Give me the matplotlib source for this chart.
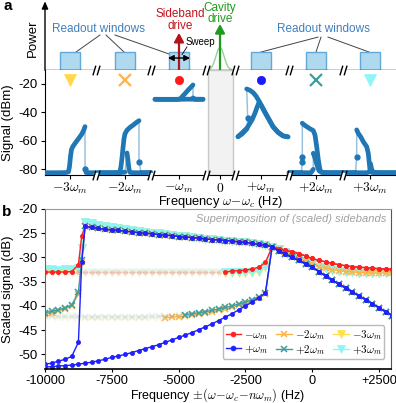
import numpy as np
import matplotlib.pyplot as plt
from matplotlib.patches import Rectangle
from matplotlib.path import Path
from matplotlib.lines import Line2D

plt.rcParams['font.family'] = ['Liberation Sans', 'DejaVu Sans']
plt.rcParams['mathtext.fontset'] = 'cm'
plt.rcParams['axes.unicode_minus'] = False
plt.rcParams['font.size'] = 9.5

# ---------------- panel a: spectra in the readout windows ----------------
# each trace = list of segments (detuning inside window, signal in dBm)
m3_up = [([-25, -18, -10, -4, -1.5, -0.5, 0.5, 1.5, 3, 6, 9, 12, 14, 15],
          [-82.4, -82.4, -82.4, -82.3, -81.8, -78, -71, -66, -63.8, -60.8, -58, -55, -52, -50]),
         ([15], [-80.0]),
         ([16, 20, 26], [-82.3, -82.4, -82.4])]
m2_up = [([-27, -20, -12, -7, -5, -4, -3, -2, -1, 0, 2, 5, 8, 11, 14],
          [-82.4, -82.4, -82.4, -82.3, -81.5, -78, -72, -65, -58.5, -55, -52.5, -50.5, -49, -47.3, -45.8]),
         ([14], [-74.6]),
         ([16, 20, 26], [-82.3, -82.4, -82.4])]
m2_down = [([26, 15, 8, 5, 4, 3, 2], [-82.4, -82.4, -82.4, -82.2, -80, -74, -68.5]),
           ([0, -5, -15, -27], [-82.0, -82.4, -82.4, -82.4])]
m1_flat = [([-24, -12, 0, 12, 24], [-30.8, -30.9, -30.8, -30.7, -30.8])]
m1_bump = [([-24, -10, 0, 2, 4, 6, 9, 12, 14],
            [-30.8, -30.8, -30.8, -30.0, -28.3, -26.8, -24.4, -22.2, -20.7]),
           ([14, 16, 20, 24], [-29.8, -30.8, -30.8, -30.8])]
p1_up = [([-23, -19, -16, -14], [-57.1, -55.2, -53.0, -51.5]),
         ([-13.3], [-44.1]),
         ([-14.3, -11, -8, -5, -2, 1, 4, 8, 12, 17, 22, 27],
          [-23.5, -24.5, -26.0, -28.5, -32.0, -36.0, -40.0, -45.0, -50.0, -54.0, -56.5, -57.2])]
p1_down = [([27, 22, 17, 12, 8, 4, 1, -2, -4, -6, -9, -14, -19, -23],
            [-57.2, -56.5, -54.0, -50.0, -45.0, -40.0, -36.0, -33.0, -36.5, -40.5, -45.3, -51.0, -54.5, -57.0])]
p2_up = [([-27, -20, -16, -14.5], [-82.4, -82.4, -82.3, -82.2]),
         ([-13.7], [-74.6]),
         ([-13.7], [-71.1]),
         ([-13.7, -12, -9.3, -6, -2.7, -1, 0.7, 2.3, 4, 6, 12, 20, 27],
          [-47.6, -48.7, -50.0, -51.5, -52.8, -55.9, -64.1, -73.4, -80.5, -82.2, -82.4, -82.4, -82.4])]
p2_down = [([27, 15, 6, 3, 1, -1, -2.7], [-82.4, -82.4, -82.3, -81.0, -77.0, -72.0, -68.7]),
           ([-2.7, -5, -15, -27], [-80.0, -82.4, -82.4, -82.4])]
p3_up = [([-27, -20, -16, -14.5], [-82.4, -82.4, -82.3, -82.2]),
         ([-13.3], [-71.0]),
         ([-13.3, -11.7, -9, -6.7, -3.3, -1.7, -0.7, 0, 2, 8, 15, 26],
          [-52.3, -54.7, -57.5, -60.6, -64.1, -68.7, -75.8, -80.5, -82.2, -82.4, -82.4, -82.4])]
p3_down = [([26, 10, 3, 1.5, 0.5], [-82.4, -82.4, -82.2, -79.5, -76.0]),
           ([0.5, -3, -12, -27], [-81.5, -82.4, -82.4, -82.4])]

windows = ['-3', '-2', '-1', '0', '+1', '+2', '+3']
win_labels = [r'$-3\omega_m$', r'$-2\omega_m$', r'$-\omega_m$', r'$0$',
              r'$+\omega_m$', r'$+2\omega_m$', r'$+3\omega_m$']
spectra = {'-3': [m3_up], '-2': [m2_up, m2_down], '-1': [m1_flat, m1_bump],
           '+1': [p1_up, p1_down], '+2': [p2_up, p2_down], '+3': [p3_up, p3_down]}

# ---------------- panel b: superimposed scaled sidebands ----------------
freq_left = np.arange(-10000, -8749, 250)
freq_rise = -8625
freq_high = np.arange(-8500, -1499, 250)
freq_right = np.arange(-1250, 3001, 250)
freq_low = np.arange(-10000, -1749, 250)

high = [-23.6, -23.8, -24.0, -24.2, -24.3, -24.4, -24.6, -24.7, -24.9, -25.0, -25.1, -25.3,
        -25.4, -25.5, -25.7, -25.8, -25.9, -26.0, -26.2, -26.3, -26.4, -26.5, -26.6, -26.8,
        -26.9, -27.1, -27.3, -27.5, -27.8]
high_tri = [-22.6, -22.9, -23.2, -23.5, -23.7, -23.9, -24.1, -24.3, -24.5, -24.7, -24.9, -25.0,
            -25.2, -25.3, -25.5, -25.6, -25.8, -25.9, -26.1, -26.2, -26.3, -26.5, -26.6, -26.8,
            -26.9, -27.1, -27.3, -27.5, -27.8]
right_red = [-28.2, -28.5, -28.8, -29.2, -29.7, -30.2, -30.6, -30.9, -31.2, -31.5, -31.7, -31.9,
             -32.0, -32.1, -32.2, -32.3, -32.4, -32.4]
right_upper = [-28.3, -28.8, -29.4, -30.1, -30.8, -31.4, -31.9, -32.2, -32.5, -32.7, -32.9, -33.0,
               -33.1, -33.1, -33.2, -33.2, -33.2, -33.2]
right_lower = [-28.7, -29.3, -30.0, -30.6, -31.3, -32.0, -32.9, -33.8, -34.7, -35.5, -36.3, -37.1,
               -37.9, -38.7, -39.5, -40.4, -41.2, -42.0]

red_left = [-33.0, -33.0, -33.0, -33.0, -32.9, -31.5]
blue_left = [-52.0, -51.8, -51.4, -51.0, -50.4, -47.5]
orange_left = [-41.7, -41.4, -41.0, -40.6, -40.0, -37.6]
teal_left = [-41.4, -41.1, -40.8, -40.4, -39.8, -37.2]
yellow_left = [-32.6, -32.6, -32.7, -32.6, -32.5, -32.3]
cyan_left = [-32.4, -32.4, -32.5, -32.4, -32.3, -32.1]

red_low = [-33.0, -33.0, -33.0, -33.0, -33.0, -33.0, -33.0, -33.0, -33.0, -33.0, -33.0, -33.0,
           -33.0, -33.0, -33.0, -33.0, -33.0, -33.0, -33.0, -33.0, -33.0, -33.0, -33.0, -33.0,
           -33.0, -33.0, -33.0, -33.0, -32.8, -32.7, -32.6, -32.4, -32.0, -31.0]
blue_low = [-52.6, -52.5, -52.4, -52.3, -52.2, -52.0, -51.8, -51.6, -51.3, -51.0, -50.6, -50.3,
            -50.0, -49.6, -49.2, -48.8, -48.4, -48.0, -47.5, -47.0, -46.5, -46.0, -45.5, -44.9,
            -44.3, -43.7, -43.0, -42.3, -41.6, -40.8, -40.0, -39.2, -38.3, -37.3]
orange_low = [-42.3, -42.3, -42.4, -42.4, -42.4, -42.4, -42.5, -42.5, -42.5, -42.5, -42.5, -42.5,
              -42.5, -42.5, -42.5, -42.5, -42.4, -42.4, -42.4, -42.3, -42.2, -42.1, -41.9, -41.7,
              -41.5, -41.2, -40.9, -40.6, -40.3, -39.9, -39.5, -39.0, -38.3, -37.6]
teal_low = [-42.0, -42.0, -42.1, -42.1, -42.1, -42.1, -42.2, -42.2, -42.2, -42.2, -42.2, -42.2,
            -42.2, -42.2, -42.2, -42.2, -42.1, -42.1, -42.1, -42.0, -41.9, -41.8, -41.6, -41.4,
            -41.2, -40.9, -40.6, -40.3, -40.0, -39.6, -39.2, -38.7, -38.1, -37.4]
yellow_low = [-33.2, -33.2, -33.2, -33.2, -33.2, -33.2, -33.2, -33.2, -33.2, -33.2, -33.2, -33.2,
              -33.2, -33.2, -33.2, -33.2, -33.2, -33.2, -33.2, -33.2, -33.2, -33.2, -33.2, -33.2,
              -33.2, -33.2, -33.2, -33.2, -33.2, -33.2, -33.2, -33.1, -32.9, -32.0]
cyan_low = [-33.0, -33.0, -33.0, -33.0, -33.0, -33.0, -33.0, -33.0, -33.0, -33.0, -33.0, -33.0,
            -33.0, -33.0, -33.0, -33.0, -33.0, -33.0, -33.0, -33.0, -33.0, -33.0, -33.0, -33.0,
            -33.0, -33.0, -33.0, -33.0, -33.0, -33.0, -33.0, -32.9, -32.7, -31.8]

series = [
    dict(label=r'$-3\omega_m$', color='#ffe14d', marker='v', ms=5.5, mew=0.5,
         left=yellow_left, rise=-28.0, high=high_tri, right_up=right_upper,
         low=yellow_low, right_dn=right_upper, fade=-3250),
    dict(label=r'$+3\omega_m$', color='#8ef5f5', marker='v', ms=5.5, mew=0.5,
         left=cyan_left, rise=-28.0, high=high_tri, right_up=right_upper,
         low=cyan_low, right_dn=right_upper, fade=-3250),
    dict(label=r'$-2\omega_m$', color='#ffb347', marker='x', ms=4.5, mew=1.1,
         left=orange_left, rise=-31.0, high=high, right_up=right_upper,
         low=orange_low, right_dn=right_lower, fade=-5500),
    dict(label=r'$+2\omega_m$', color='#3d9e9e', marker='x', ms=4.5, mew=1.1,
         left=teal_left, rise=-30.5, high=high, right_up=right_lower,
         low=teal_low, right_dn=right_lower, fade=-4750),
    dict(label=r'$-\omega_m$', color='#ff2020', marker='o', ms=3.0, mew=0.5,
         left=red_left, rise=-25.5, high=high, right_up=right_red,
         low=red_low, right_dn=right_red, fade=-3250),
    dict(label=r'$+\omega_m$', color='#1f1fff', marker='o', ms=3.0, mew=0.5,
         left=blue_left, rise=-31.0, high=high, right_up=right_lower,
         low=blue_low, right_dn=right_lower, fade=-10001),
]
legend_order = [r'$-\omega_m$', r'$+\omega_m$', r'$-2\omega_m$', r'$+2\omega_m$',
                r'$-3\omega_m$', r'$+3\omega_m$']

# ---------------- layout (pixel based) ----------------
W, H = 396, 403
fig = plt.figure(figsize=(W / 100, H / 100), dpi=100)


def rect(x0, y0, x1, y1):
    return [x0 / W, 1 - y1 / H, (x1 - x0) / W, (y1 - y0) / H]


centers = {'-3': 70, '-2': 125, '-1': 179, '0': 220, '+1': 261, '+2': 316, '+3': 370}
breaks = [96, 151, 206, 235, 289, 343]
XL = (45, 396)
SPEC_C = '#1f77b4'

ax_top = fig.add_axes(rect(45, 0, 396, 70))
ax_a = fig.add_axes(rect(45, 70, 396, 175))
ax_b = fig.add_axes(rect(45, 209, 391, 369))

# --- schematic
ax_top.set_xlim(XL)
ax_top.set_ylim(0, 1)
for s in ['top', 'right', 'left']:
    ax_top.spines[s].set_visible(False)
ax_top.spines['bottom'].set_linewidth(1.0)
ax_top.set_yticks([])
ax_top.set_xticks([centers[w] for w in windows])
ax_top.tick_params(axis='x', length=3.5, labelbottom=False, width=0.8)
ax_top.patch.set_alpha(0)

ax_top.annotate('', xy=(45, 0.98), xytext=(45, 0), annotation_clip=False,
                arrowprops=dict(arrowstyle='-|>,head_length=0.45,head_width=0.2',
                                color='black', lw=1.0, shrinkA=0, shrinkB=0))
fig.text(33 / W, 1 - 38 / H, 'Power', rotation=90, ha='center', va='center', fontsize=9.5)

for w in windows:
    if w == '0':
        continue
    ax_top.add_patch(Rectangle((centers[w] - 10, 0), 20, 0.257, facecolor='#aed9ee',
                               edgecolor='#62a8d8', lw=1.0, zorder=2))

ax_top.text(98.5, 0.586, 'Readout windows', color='#3f7fbf', fontsize=8.5, ha='center', va='center')
ax_top.text(323.5, 0.586, 'Readout windows', color='#3f7fbf', fontsize=8.5, ha='center', va='center')
for (x0, y0), (x1, y1) in [((100, 0.5), (76, 0.257)), ((106, 0.5), (124, 0.257)),
                           ((115, 0.5), (172, 0.214)), ((318, 0.47), (261, 0.257)),
                           ((321, 0.47), (316, 0.257)), ((328, 0.47), (369, 0.257))]:
    ax_top.plot([x0, x1], [y0, y1], color='#444444', lw=0.7, zorder=1)

# sideband drive
ax_top.annotate('', xy=(179, 0.53), xytext=(179, 0),
                arrowprops=dict(arrowstyle='-|>,head_length=0.55,head_width=0.3',
                                color='#b5121b', lw=1.6, shrinkA=0, shrinkB=0), zorder=4)
ax_top.text(180, 0.714, 'Sideband\ndrive', color='#c0141c', ha='center', va='center',
            fontsize=8.5, linespacing=0.95)
ax_top.annotate('', xy=(190, 0.171), xytext=(168, 0.171),
                arrowprops=dict(arrowstyle='<|-|>,head_length=0.35,head_width=0.18',
                                color='black', lw=1.0, shrinkA=0, shrinkB=0), zorder=5)
ax_top.plot([182, 187], [0.22, 0.33], color='black', lw=0.6)
ax_top.text(186, 0.4, 'Sweep', fontsize=7, ha='left', va='center')

# cavity drive
lorentz_dx = [-13, -10, -8, -6, -4, -2, 0, 2, 4, 6, 8, 10, 13]
lorentz_h = [0.0, 0.015, 0.045, 0.11, 0.2, 0.29, 0.33, 0.29, 0.2, 0.11, 0.045, 0.015, 0.0]
ax_top.plot(220 + np.array(lorentz_dx), lorentz_h, color='#93d393', lw=1.0)
ax_top.annotate('', xy=(220, 0.657), xytext=(220, 0),
                arrowprops=dict(arrowstyle='-|>,head_length=0.55,head_width=0.3',
                                color='#1e9b1e', lw=1.6, shrinkA=0, shrinkB=0), zorder=4)
ax_top.text(220, 0.807, 'Cavity\ndrive', color='#1e9b1e', ha='center', va='center',
            fontsize=8.5, linespacing=0.95)

# --- spectra
ax_a.set_xlim(XL)
ax_a.set_ylim(-84, -10.2)
ax_a.spines['top'].set_visible(False)
ax_a.spines['right'].set_visible(False)
ax_a.axvspan(208, 233, facecolor='#f2f2f2', edgecolor='#c8c8c8', lw=1.0, zorder=0)


def draw_trace(segs, center):
    xs = np.concatenate([center + np.asarray(d, float) for d, s in segs])
    ys = np.concatenate([np.asarray(s, float) for d, s in segs])
    ax_a.plot(xs, ys, color=SPEC_C, lw=1.1, alpha=0.45, zorder=2)
    for d, s in segs:
        x = center + np.asarray(d, float)
        if len(d) == 1:
            ax_a.plot(x, s, 'o', color=SPEC_C, ms=3.5, zorder=3)
        else:
            ax_a.plot(x, s, color=SPEC_C, lw=3.4, solid_capstyle='round',
                      solid_joinstyle='round', zorder=3)


for w, traces in spectra.items():
    for tr in traces:
        draw_trace(tr, centers[w])

side_marks = {'-3': ('v', '#ffd84d', 9, 0.5), '-2': ('x', '#ffb347', 8, 1.6),
              '-1': ('o', '#ff1a1a', 6, 0.5), '+1': ('o', '#1a1aff', 6, 0.5),
              '+2': ('x', '#3d9e9e', 8, 1.6), '+3': ('v', '#8ff5f5', 9, 0.5)}
for w, (mk, col, ms, mew) in side_marks.items():
    ax_a.plot(centers[w], -17.2, marker=mk, color=col, ms=ms, mew=mew, ls='none', zorder=4)

ax_a.set_xticks([centers[w] for w in windows])
ax_a.set_xticklabels(win_labels, fontsize=9.8)
ax_a.set_yticks([-20, -40, -60, -80])
ax_a.tick_params(length=3, width=0.8, pad=2.5)
ax_a.tick_params(axis='x', pad=1.0)
ax_a.set_ylabel('Signal (dBm)')
ax_a.yaxis.set_label_coords((14 - 45) / 351, 0.5)
ax_a.set_xlabel(r'Frequency $\omega\!-\!\omega_c$ (Hz)', fontsize=9.3)
ax_a.xaxis.set_label_coords(0.5, -0.185)

brk = Path([(-2.2, -3), (-0.4, 3), (0.4, -3), (2.2, 3)],
           [Path.MOVETO, Path.LINETO, Path.MOVETO, Path.LINETO])
for yy in [0, 1]:
    trans = ax_a.get_xaxis_transform()
    ax_a.plot(breaks, [yy] * len(breaks), 's', color='white', ms=3, transform=trans,
              clip_on=False, zorder=6)
    ax_a.plot(breaks, [yy] * len(breaks), marker=brk, color='black', ms=7, mew=1.0, ls='none',
              transform=trans, clip_on=False, zorder=7)

# --- panel b
for s in series:
    style = dict(color=s['color'], marker=s['marker'], ms=s['ms'], mew=s['mew'], lw=1.0)
    x_up = np.concatenate([freq_left, [freq_rise], freq_high, freq_right])
    y_up = np.concatenate([s['left'], [s['rise']], s['high'], s['right_up']])
    ax_b.plot(x_up, y_up, **style)
    x_dn = np.concatenate([freq_low, [-1500], freq_right])
    y_dn = np.concatenate([s['low'], [s['high'][-1]], s['right_dn']])
    solid = x_dn >= s['fade']
    ax_b.plot(x_dn[solid], y_dn[solid], **style)
    ax_b.plot(x_dn[~solid], y_dn[~solid], alpha=0.13, **style)

handles = {s['label']: Line2D([], [], color=s['color'], marker=s['marker'], ms=s['ms'] + 0.5,
                              mew=s['mew'], lw=1.0) for s in series}
ax_b.legend([handles[k] for k in legend_order], legend_order, ncol=3, loc='lower right',
            bbox_to_anchor=(0.997, 0.025), fontsize=8, handlelength=1.4, handletextpad=0.3,
            columnspacing=0.7, labelspacing=0.1, borderpad=0.25, framealpha=1,
            edgecolor='#bbbbbb')

ax_b.set_xlim(-10000, 2950)
ax_b.set_ylim(-53, -20)
ax_b.set_xticks([-10000, -7500, -5000, -2500, 0, 2500])
ax_b.set_xticklabels(['-10000', '-7500', '-5000', '-2500', '0', '+2500'])
ax_b.set_yticks([-20, -25, -30, -35, -40, -45, -50])
ax_b.tick_params(length=3, width=0.8, pad=2.5)
ax_b.tick_params(axis='x', labelsize=9.2, pad=1.5, length=2.5)
ax_b.spines['bottom'].set_linewidth(1.2)
ax_b.spines['left'].set_color('#666666')
ax_b.spines['top'].set_color('#999999')
ax_b.spines['right'].set_color('#555555')
ax_b.set_ylabel('Scaled signal (dB)')
ax_b.yaxis.set_label_coords((14 - 45) / 346, 0.5)
ax_b.set_xlabel(r'Frequency $\pm(\omega\!-\!\omega_c\!-\!n\omega_m)$ (Hz)', fontsize=9)
ax_b.xaxis.set_label_coords(0.5, -0.105)
ax_b.text(0.986, 0.94, 'Superimposition of (scaled) sidebands', transform=ax_b.transAxes,
          ha='right', va='center', style='italic', color='#a0a0a0', fontsize=8)

fig.text(3 / W, 1 - 6 / H, 'a', fontweight='bold', fontsize=11, ha='left', va='center')
fig.text(2 / W, 1 - 212 / H, 'b', fontweight='bold', fontsize=11, ha='left', va='center')

fig.savefig('out.png', dpi=100)
